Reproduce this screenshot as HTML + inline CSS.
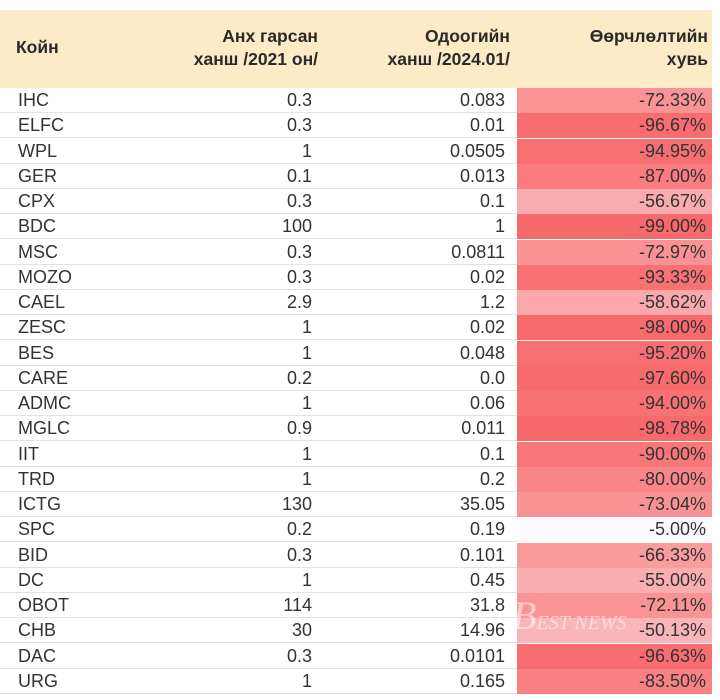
<!DOCTYPE html>
<html><head><meta charset="utf-8"><style>
body{margin:0;width:720px;height:700px;background:#fff;font-family:"Liberation Sans",sans-serif;color:#333;overflow:hidden;position:relative}
#hdr{position:absolute;left:0;top:10px;width:712px;height:78px;background:#fdeac6}
.h{position:absolute;font-weight:bold;font-size:17.5px;line-height:23px;color:#2a2a2a}
.row{position:absolute;left:0;width:712px;height:25px;border-bottom:1px solid #e2e2e2;box-sizing:border-box;font-size:18px}
.row div{position:absolute;top:0;line-height:25px}
.c4{left:517px;width:195px;height:25px;text-align:right;box-sizing:border-box;padding-right:6px}
#wm{position:absolute;left:512px;top:592px;font-size:40px;font-style:italic;color:rgba(255,255,255,0.55);font-family:"Liberation Serif",serif}
</style></head><body>
<div id="hdr"></div>
<div class="h" style="left:16px;top:36px">Койн</div>
<div class="h" style="right:402px;top:25px;text-align:right">Анх гарсан<br>ханш /2021 он/</div>
<div class="h" style="right:210px;top:25px;text-align:right">Одоогийн<br>ханш /2024.01/</div>
<div class="h" style="right:12px;top:25px;text-align:right">Өөрчлөлтийн<br>хувь</div>
<div id="rows"></div>
<div id="wm">B<span style="font-size:20px">EST NEWS</span></div>
<script>
const coins=["IHC","ELFC","WPL","GER","CPX","BDC","MSC","MOZO","CAEL","ZESC","BES","CARE","ADMC","MGLC","IIT","TRD","ICTG","SPC","BID","DC","OBOT","CHB","DAC","URG"];
const initial=["0.3","0.3","1","0.1","0.3","100","0.3","0.3","2.9","1","1","0.2","1","0.9","1","1","130","0.2","0.3","1","114","30","0.3","1"];
const current=["0.083","0.01","0.0505","0.013","0.1","1","0.0811","0.02","1.2","0.02","0.048","0.0","0.06","0.011","0.1","0.2","35.05","0.19","0.101","0.45","31.8","14.96","0.0101","0.165"];
const change=[-72.33,-96.67,-94.95,-87.00,-56.67,-99.00,-72.97,-93.33,-58.62,-98.00,-95.20,-97.60,-94.00,-98.78,-90.00,-80.00,-73.04,-5.00,-66.33,-55.00,-72.11,-50.13,-96.63,-83.50];
const mn=Math.min(...change),mx=Math.max(...change);
function color(v){const t=(mx-v)/(mx-mn);const a=[252,252,255],b=[248,105,107];
return `rgb(${a.map((x,i)=>Math.round(x+(b[i]-x)*t)).join(',')})`;}
const R=document.getElementById('rows');
coins.forEach((c,i)=>{
 const r=document.createElement('div');r.className='row';r.style.top=(88+i*25.25)+'px';
 
 
 r.innerHTML=`<div style="left:18px">${c}</div>
<div style="right:400px">${initial[i]}</div>
<div style="right:207px">${current[i]}</div>
<div class="c4" style="background:${color(change[i])}">${change[i].toFixed(2)}%</div>`;
 R.appendChild(r);
});
</script>
</body></html>
